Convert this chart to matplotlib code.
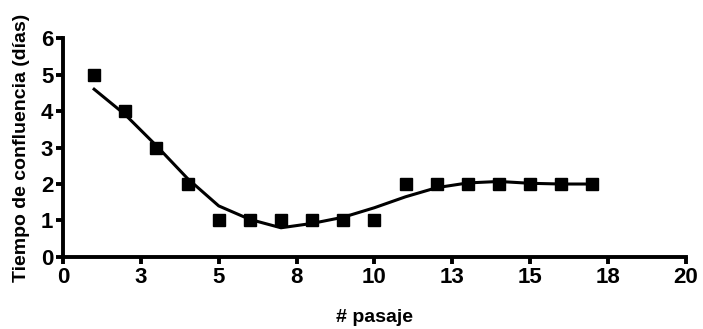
import matplotlib.pyplot as plt
from matplotlib.ticker import FixedLocator, FuncFormatter

# passage number and days to confluence (squares)
pasaje = [1, 2, 3, 4, 5, 6, 7, 8, 9, 10, 11, 12, 13, 14, 15, 16, 17]
dias = [5, 4, 3, 2, 1, 1, 1, 1, 1, 1, 2, 2, 2, 2, 2, 2, 2]

# smoothed curve
curva_x = [1, 2, 3, 4, 5, 6, 7, 8, 9, 10, 11, 12, 13, 14, 15, 16, 17]
curva_y = [4.6, 3.9, 3.05, 2.15, 1.4, 1.03, 0.8, 0.92, 1.09, 1.35, 1.65,
           1.9, 2.03, 2.07, 2.02, 2.0, 2.0]

x_ticks = [0, 2.5, 5, 7.5, 10, 12.5, 15, 17.5, 20]
y_ticks = [0, 1, 2, 3, 4, 5, 6]

plt.rcParams['font.family'] = ['Liberation Sans', 'DejaVu Sans']
plt.rcParams['font.weight'] = 'bold'

fig = plt.figure(figsize=(7.03, 3.29), dpi=100)
ax = fig.add_axes([0.0896, 0.219, 0.886, 0.665])

ax.plot(curva_x, curva_y, color='black', linewidth=2.2, zorder=2)
ax.plot(pasaje, dias, linestyle='none', marker='s', markersize=8.3,
        color='black', zorder=3)

ax.set_xlim(0, 20)
ax.set_ylim(0, 6)
ax.xaxis.set_major_locator(FixedLocator(x_ticks))
ax.yaxis.set_major_locator(FixedLocator(y_ticks))
# labels are rounded half up, like the original (2.5 -> 3)
ax.xaxis.set_major_formatter(FuncFormatter(lambda v, p: '%d' % int(v + 0.5)))

for side in ['top', 'right']:
    ax.spines[side].set_visible(False)
for side in ['left', 'bottom']:
    ax.spines[side].set_linewidth(2.8)

ax.tick_params(direction='out', length=5, width=2.8, labelsize=16, pad=2)
for lab in ax.get_xticklabels() + ax.get_yticklabels():
    lab.set_fontweight('bold')

ax.set_xlabel('# pasaje', fontsize=14, fontweight='bold', labelpad=15)
ax.set_ylabel('Tiempo de confluencia (días)', fontsize=14, fontweight='bold',
              labelpad=8)

fig.savefig('out.png', dpi=100)
